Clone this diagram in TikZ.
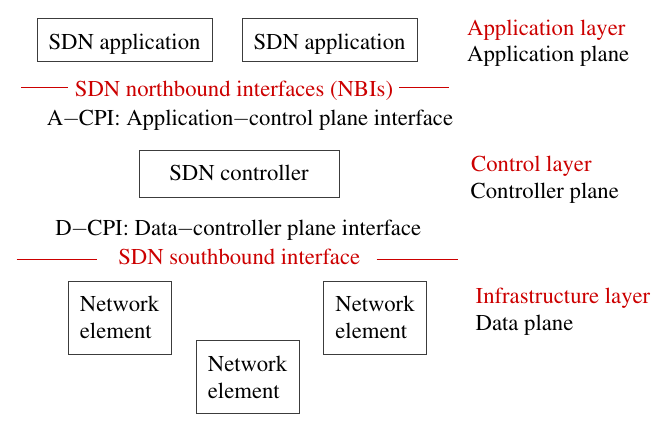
\documentclass[tikz,border=0pt]{standalone}
\usepackage[T1]{fontenc}
\usepackage{mathptmx}
\definecolor{layerred}{RGB}{204,0,0}
\definecolor{boxline}{RGB}{60,60,60}
% tight minus sign between words
\newcommand\mnus{\kern-1pt$-$\kern-1pt}
\begin{document}
\begin{tikzpicture}[x=1pt,y=-1pt,
  txt/.style={font=\fontsize{22.7}{27}\selectfont, inner sep=0pt},
  redtxt/.style={txt, text=layerred},
  box/.style={txt, draw=boxline, line width=0.9pt, text depth=0pt},
  appbox/.style={box, minimum width=175pt, minimum height=43pt, text height=20pt},
  ctrlbox/.style={box, minimum width=200pt, minimum height=47pt, text height=14.4pt},
  nebox/.style={txt, draw=boxline, line width=0.9pt, align=left,
                minimum width=103pt, minimum height=73pt},
  redline/.style={draw=layerred, line width=0.9pt}
]
\useasboundingbox (0,0) rectangle (667,428);

% application plane
\node[appbox] (app1) at (124.5,39.5) {SDN application};
\node[appbox] (app2) at (329.5,39.5) {SDN application};

% northbound interface
\node[redtxt, anchor=base] (nbi) at (234,96) {SDN northbound interfaces (NBIs)};
\coordinate (nbiL1) at (21,87.3);
\coordinate (nbiL2) at (68.3,87.3);
\coordinate (nbiR1) at (399,87.3);
\coordinate (nbiR2) at (449.3,87.3);
\draw[redline] (nbiL1) -- (nbiL2);
\draw[redline] (nbiR1) -- (nbiR2);
\node[txt, anchor=base] (acpi) at (250,125) {A\mnus CPI: Application\mnus control plane interface};

% control plane
\node[ctrlbox] (ctrl) at (239,173.5) {SDN controller};

% southbound interface
\node[txt, anchor=base] (dcpi) at (238.3,235) {D\mnus CPI: Data\mnus controller plane interface};
\node[redtxt, anchor=base] (sbi) at (239.2,264) {SDN southbound interface};
\coordinate (sbiL1) at (16.7,259.5);
\coordinate (sbiL2) at (96.7,259.5);
\coordinate (sbiR1) at (376.7,259.5);
\coordinate (sbiR2) at (458.3,259.5);
\draw[redline] (sbiL1) -- (sbiL2);
\draw[redline] (sbiR1) -- (sbiR2);

% data plane
\node[nebox] (ne1) at (119.5,317.5) {Network\\element};
\node[nebox] (ne2) at (247.5,377) {Network\\element};
\node[nebox] (ne3) at (375,317.5) {Network\\element};

% layer / plane labels
\node[redtxt, anchor=base west] (applayer) at (467,36) {Application layer};
\node[txt, anchor=base west] (appplane) at (467,62) {Application plane};
\node[redtxt, anchor=base west] (ctrllayer) at (471,171.7) {Control layer};
\node[txt, anchor=base west] (ctrlplane) at (470.5,198.3) {Controller plane};
\node[redtxt, anchor=base west] (infralayer) at (475.5,303.3) {Infrastructure layer};
\node[txt, anchor=base west] (dataplane) at (475.5,330) {Data plane};
\end{tikzpicture}
\end{document}
